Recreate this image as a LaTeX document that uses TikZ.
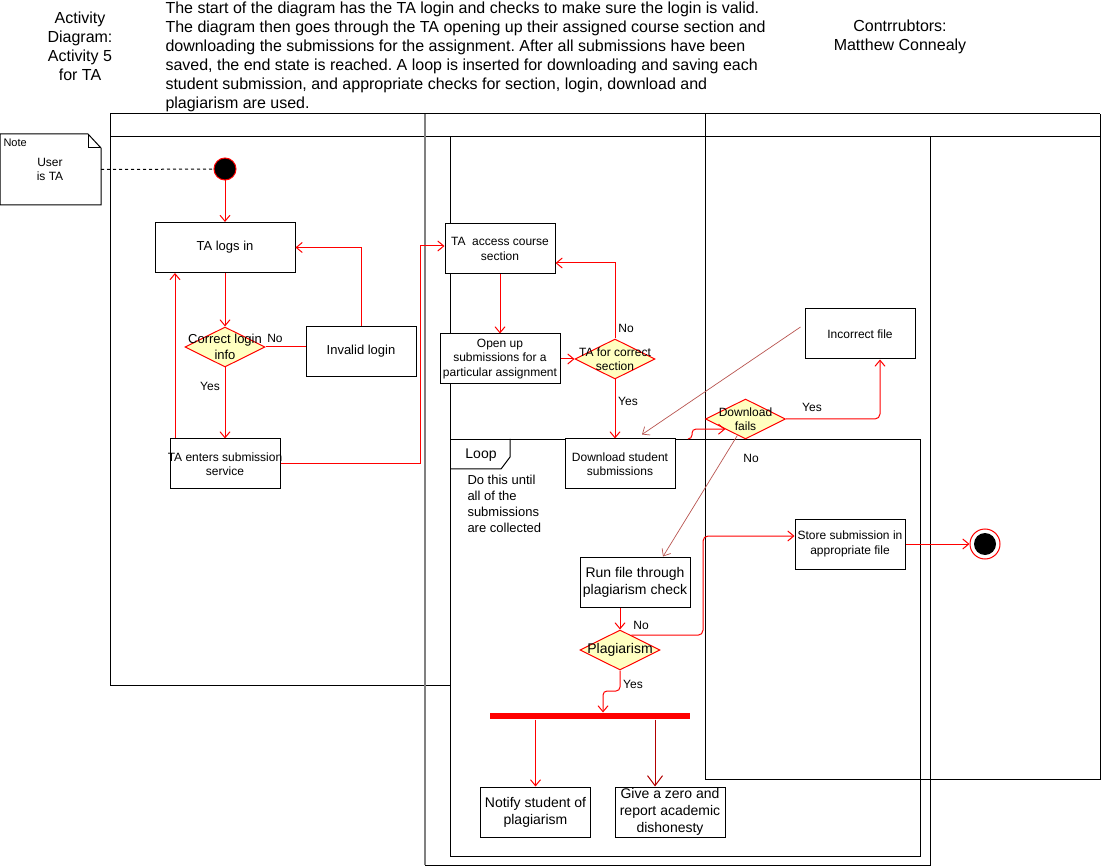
\documentclass[tikz,border=0pt]{standalone}
\usepackage{fontspec}
\setmainfont{Liberation Sans}
\frenchspacing
\usetikzlibrary{shapes.geometric,arrows.meta,calc}
\definecolor{flowred}{RGB}{255,0,0}
\definecolor{decfill}{RGB}{255,255,192}
\definecolor{fadedred}{RGB}{184,84,80}
\definecolor{darkred}{RGB}{178,0,0}
\definecolor{lanegray}{RGB}{128,128,128}
\tikzset{
	f11/.style={font=\fontsize{11}{13}\selectfont},
	f12/.style={font=\fontsize{12}{14.4}\selectfont},
	f13/.style={font=\fontsize{13}{16}\selectfont},
	f14/.style={font=\fontsize{14}{16.8}\selectfont},
	f16/.style={font=\fontsize{16}{19}\selectfont},
	actbox/.style={draw, fill=white, rectangle, minimum height=50, inner sep=0},
	decision/.style={draw=flowred, fill=decfill, diamond, minimum width=80, minimum height=40, inner sep=0},
	boxtext/.style={align=center, inner sep=0},
	flow/.style={draw=flowred, ->},
	faded/.style={draw=fadedred, line width=0.7, ->}
}
\newcommand{\actbox}[5]{
	\node [actbox, minimum width=#3] (#1) at (#2) {};
	\node [boxtext, #4] (#1-text) at (#2) {#5};}
\newcommand{\adecision}[4]{
	\node [decision] (#1) at (#2) {};
	\node [boxtext, #3] (#1-text) at (#2) {#4};}

\begin{document}
\begin{tikzpicture}[x=1pt,y=-1pt,line width=1pt,>={Straight Barb[length=6pt,width=10pt]}]
	\useasboundingbox (0,0) rectangle (1101,866);
	\node [f16, align=center] (title) at (80,46.5) {Activity\\Diagram:\\Activity 5\\for TA};
	\node [f16, align=left, anchor=west, inner sep=0] (summary) at (165,56.5) {The start of the diagram has the TA login and checks to make sure the login is valid.\\The diagram then goes through the TA opening up their assigned course section and\\downloading the submissions for the assignment. After all submissions have been\\saved, the end state is reached. A loop is inserted for downloading and saving each\\student submission, and appropriate checks for section, login, download and\\plagiarism are used.};
	\node [f16, align=center] (authors) at (900,36.5) {Contrrubtors:\\Matthew Connealy};
	\draw (110,114) -- (1100,114);
	\draw (110,137) -- (1100,137);
	\draw (110,114) -- (110,685) -- (450,685);
	\draw (450,137) -- (450,439);
	\draw [lanegray, line width=1.5] (425,114) -- (425,865);
	\draw (425,865) -- (930,865) -- (930,137);
	\draw (705,114) -- (705,779) -- (1100,779) -- (1100,114);
	\node [draw, minimum width=470, minimum height=417, anchor=north west, inner sep=0] (loop) at (450,439) {};
	\draw (510,439) -- (510,457) -- (501,469) -- (450,469);
	\node [f14] (loop-label) at (481,455) {Loop};
	\node [f13, align=left, anchor=west, inner sep=0] (loop-cond) at (467,504) {Do this until\\all of the\\submissions\\are collected};
	\node [minimum width=100, minimum height=70, anchor=north west, inner sep=0] (note) at (0,134) {};
	\draw [fill=white] (note.south west) -- (note.north west) -- ([xshift=-13]note.north east) -- ([yshift=-14]note.north east) -- (note.south east) -- cycle;
	\draw ([xshift=-13]note.north east) -- ([xshift=-13,yshift=-14]note.north east) -- ([yshift=-14]note.north east);
	\node [f11, anchor=west, inner sep=0] (note-title) at (3,143) {Note};
	\node [f12, align=center] (note-text) at (50,169.5) {User\\is TA};
	\node [draw=flowred, fill=black, circle, minimum size=22, inner sep=0] (init) at (225,169) {};
	\draw [dash pattern=on 3pt off 3pt] (note.east) -- (init);
	\actbox{talogs}{225,247.5}{140}{f13}{TA logs in}
	\adecision{corrlogin}{225,347}{f13}{Correct login\\info}
	\actbox{invalid}{361,351.5}{110}{f13}{Invalid login}
	\actbox{taenters}{225,464}{110}{f12}{TA enters submission\\service}
	\actbox{taaccess}{500,249}{110}{f12}{TA\ \ access course\\section}
	\actbox{openup}{500,359}{120}{f12}{Open up\\submissions for a\\particular assignment}
	\adecision{tacheck}{615,359}{f12}{TA for correct\\section}
	\actbox{dlstudent}{620,464}{110}{f12}{Download student\\submissions}
	\adecision{dlfail}{745.5,419}{f12}{Download\\fails}
	\actbox{incorrect}{860,334}{110}{f12}{Incorrect file}
	\actbox{runfile}{635,582}{110}{f14}{Run file through\\plagiarism check}
	\adecision{plag}{620,650}{f14}{Plagiarism}
	\node [fill=flowred, minimum width=200, minimum height=6, inner sep=0] (fork) at (590,716) {};
	\actbox{notify}{535.5,812}{110}{f14}{Notify student of\\plagiarism}
	\actbox{givezero}{670,812}{110}{f14}{Give a zero and\\report academic\\dishonesty}
	\actbox{store}{850,544}{110}{f12}{Store submission in\\appropriate file}
	\node [draw=flowred, fill=white, circle, minimum size=30, inner sep=0] (final) at (985,544) {};
	\node [fill=black, circle, minimum size=22, inner sep=0] (final-dot) at (final) {};
	\node [f12] (no-login) at (275,338) {No};
	\node [f12] (yes-login) at (210,386) {Yes};
	\node [f12] (no-section) at (626,328) {No};
	\node [f12] (yes-section) at (628,401) {Yes};
	\node [f12] (yes-fail) at (812,407) {Yes};
	\node [f12] (no-fail) at (751,458) {No};
	\node [f12] (no-plag) at (641,625) {No};
	\node [f12] (yes-plag) at (633,684) {Yes};
	\draw [flow] (init) -- (talogs);
	\draw [flow] (talogs) -- (corrlogin);
	\draw [draw=flowred] (corrlogin.east) -- (corrlogin.east -| invalid.west);
	\draw [flow] (invalid.north) |- (talogs.east);
	\draw [flow] (corrlogin) -- (taenters);
	\draw [flow] ([xshift=-50]taenters.north) -- ([xshift=-50]talogs.south);
	\draw [flow] (taenters.east) -| (420,246) -- ([yshift=3]taaccess.west);
	\draw [flow] (taaccess) -- (openup);
	\draw [flow] (openup) -- (tacheck);
	\draw [flow] (tacheck.north) |- ([yshift=-14]taaccess.east);
	\draw [flow] (tacheck.south) -- (tacheck.south |- dlstudent.north);
	\draw [faded] ([shift={(-4,-7)}]incorrect.west) -- ([shift={(22,-4)}]dlstudent.north);
	\coordinate (dl-out) at (688,439);
	\draw [flow, rounded corners=4] (dl-out) -- (692,439) -- (692,429) -- ($(dlfail.south)!0.5!(dlfail.west)$);
	\draw [flow, rounded corners=5] (dlfail.east) -| ([xshift=20]incorrect.south);
	\draw [faded] ($(dlfail.south)!0.2!(dlfail.west)$) -- ([xshift=28]runfile.north);
	\draw [flow] (plag.north |- runfile.south) -- (plag.north);
	\draw [flow, rounded corners=5] ($(plag.north)!0.28!(plag.east)$) -| (703,536) -- ([yshift=8]store.west);
	\draw [flow, rounded corners=4] (plag.south) -- (620,691) -- (603,691) -- ([xshift=13]fork.north);
	\draw [flow] (fork.south -| notify.north) -- (notify.north);
	\draw [flow, draw=darkred, -{Straight Barb[length=10pt,width=15pt]}] ([xshift=-15]givezero.north |- fork.south) -- ([xshift=-15]givezero.north);
	\draw [flow] (store) -- (final);
\end{tikzpicture}
\end{document}
